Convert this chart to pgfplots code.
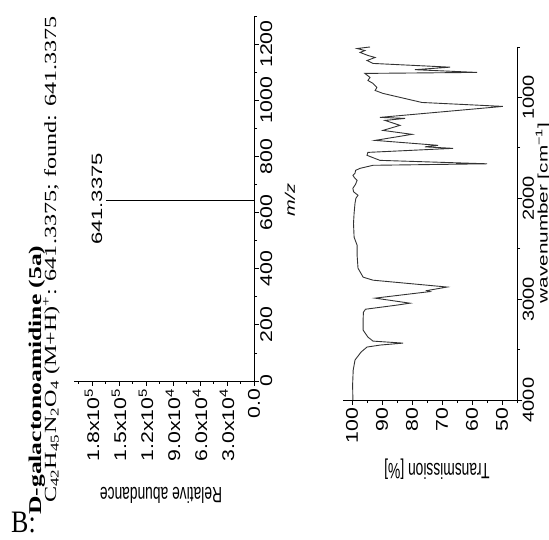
\documentclass[border=0pt]{standalone}
\usepackage{fontspec}
\setmainfont{Liberation Serif}
\setsansfont{Liberation Sans}
\usepackage{pgfplots}
\pgfplotsset{compat=1.18}

\newcommand{\tickfont}{\sffamily\fontsize{17bp}{17bp}\selectfont}
\newcommand{\labfont}{\sffamily\fontsize{13.8bp}{14bp}\selectfont}

\pgfplotsset{
  spec/.style={
    scale only axis, anchor=south west,
    tick align=outside,
    scaled ticks=false,
    major tick length=5bp, minor tick length=3bp,
    axis line style={line width=0.9bp},
    every tick/.style={line width=0.8bp, black},
    xticklabel style={font=\tickfont, rotate=90, anchor=east, xscale=1.25, inner sep=2bp},
    yticklabel style={font=\tickfont, rotate=90, anchor=north, xscale=1.25, inner sep=1bp},
  }
}

\begin{document}
\begin{tikzpicture}[x=1bp,y=1bp]
\useasboundingbox (0,0) rectangle (549,540);

% mass spectrum
\begin{axis}[spec,
  at={(74bp,159bp)}, width=180bp, height=365bp,
  xmin=0, xmax=200000, ymin=0, ymax=1300,
  x dir=reverse,
  axis x line*=bottom, axis y line*=right,
  xtick={0,30000,60000,90000,120000,150000,180000},
  xticklabels={0.0, 3.0x10\textsuperscript{4}, 6.0x10\textsuperscript{4}, 9.0x10\textsuperscript{4}, 1.2x10\textsuperscript{5}, 1.5x10\textsuperscript{5}, 1.8x10\textsuperscript{5}},
  minor xtick={15000,45000,75000,105000,135000,165000,195000},
  ytick={0,200,400,600,800,1000,1200},
  yticklabels={0,200,400,600,800,1000,1200},
  minor ytick={100,300,500,700,900,1100,1300},
]
\addplot[black, line width=0.9bp] coordinates {(0,641.3375) (164000,641.3375)};
\end{axis}

% IR spectrum
\begin{axis}[spec,
  at={(343bp,140bp)}, width=174bp, height=353bp,
  xmin=45, xmax=103, ymin=500, ymax=4000,
  x dir=reverse, y dir=reverse,
  axis x line*=bottom, axis y line*=right,
  xtick={50,60,70,80,90,100},
  xticklabels={50,60,70,80,90,100},
  minor xtick={45,55,65,75,85,95},
  ytick={1000,2000,3000,4000},
  yticklabels={1000,2000,3000,4000},
  yticklabel style={font=\sffamily\fontsize{16bp}{16bp}\selectfont, inner sep=0.5bp},
  minor ytick={500,1500,2500,3500},
]
\addplot[black!80, line width=0.9bp] coordinates {
(99.7,4000) (99.8,3850) (99.6,3703) (99.0,3604) (97.0,3525) (95.0,3475)
(90.5,3455) (83.0,3436) (93.0,3416) (94.7,3376) (96.3,3307) (96.3,3208)
(96.2,3130) (95.5,3100) (85.0,3059) (80.7,3040) (92.3,2990) (74.0,2925)
(75.0,2915) (68.3,2880) (93.0,2812) (96.3,2782) (98.0,2693) (98.3,2564)
(98.3,2465) (99.3,2386) (99.5,2250) (99.3,2148) (99.0,2050) (98.7,2000)
(98.0,1970) (99.5,1935) (99.7,1901) (98.8,1860) (98.3,1822) (99.2,1795)
(99.7,1772) (99.0,1752) (98.8,1723) (97.3,1703) (93.0,1673) (55.0,1658)
(90.7,1624) (95.0,1574) (94.7,1545) (66.3,1505) (75.7,1490) (71.3,1475)
(92.3,1426) (80.0,1366) (89.7,1327) (84.0,1277) (89.0,1228) (82.3,1208)
(90.7,1198) (49.7,1089) (76.7,1050) (89.7,960) (92.3,931) (91.7,901)
(93.0,861) (94.7,832) (94.0,802) (95.7,762) (58.3,752) (79.0,725)
(67.3,700) (93.0,663) (95.0,634) (92.3,604) (94.7,584) (97.3,554)
(95.7,535) (98.3,515) (94.0,500)
};
\end{axis}

% texts
\node[font=\sffamily\fontsize{15bp}{15bp}\selectfont, rotate=90, xscale=1.47] at (97,341) {641.3375};
\node[font=\labfont, rotate=180, yscale=1.6] at (161,45) {Relative abundance};
\node[font=\labfont, rotate=180, yscale=1.6] at (437,71) {Transmission [\%]};
\node[font=\labfont\itshape, rotate=90, xscale=1.45] at (290,340) {m/z};
\node[font=\labfont, rotate=90, xscale=1.5, inner sep=0] at (543,327) {wavenumber [cm\textsuperscript{−1}]};
\node[font=\fontsize{18bp}{18bp}\selectfont\bfseries, rotate=90, xscale=1.42, anchor=base west, inner sep=0] at (41,25) {D-galactonoamidine (5a)};
\node[font=\fontsize{17bp}{17bp}\selectfont, rotate=90, xscale=1.42, anchor=base west, inner sep=0] at (56,37) {C\textsubscript{42}H\textsubscript{45}N\textsubscript{2}O\textsubscript{4} (M+H)\textsuperscript{+}: 641.3375; found: 641.3375};
\node[font=\fontsize{26bp}{26bp}\selectfont, yscale=1.2, anchor=base west, inner sep=0] at (11,7) {B:};
\end{tikzpicture}
\end{document}
